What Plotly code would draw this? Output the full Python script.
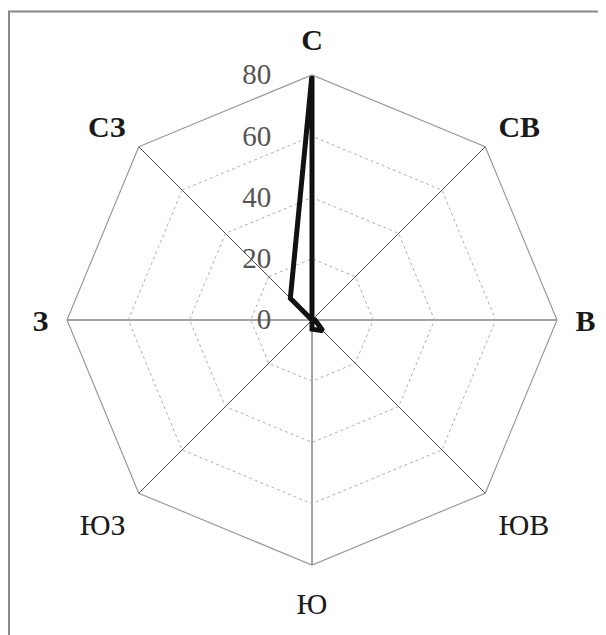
import plotly.graph_objects as go

directions = ["С", "СВ", "В", "ЮВ", "Ю", "ЮЗ", "З", "СЗ"]
values = [80, 0, 1, 5, 3, 0, 0, 10]
bold_labels = ["С", "СВ", "В", "З", "СЗ"]
radial_ticks = [0, 20, 40, 60, 80]

W, H = 606, 635
# page has an 8px body margin, so positions are given relative to the plot div
cx, cy, R = 304, 312, 245

theta = directions + [directions[0]]
r = values + [values[0]]

fig = go.Figure()
fig.add_trace(go.Scatterpolar(
    r=r, theta=theta, mode="lines",
    line=dict(color="#111111", width=5),
    showlegend=False, hoverinfo="skip",
))

ticktext = [f"<b>{d}</b>" if d in bold_labels else d for d in directions]
serif = "Liberation Serif, Times New Roman, serif"

fig.update_layout(
    width=W, height=H,
    margin=dict(l=0, r=0, t=0, b=0),
    paper_bgcolor="white",
    plot_bgcolor="white",
    font=dict(family=serif, color="#222"),
    polar=dict(
        domain=dict(x=[(cx - R) / W, (cx + R) / W],
                    y=[(H - cy - R) / H, (H - cy + R) / H]),
        gridshape="linear",
        bgcolor="white",
        angularaxis=dict(
            direction="clockwise", rotation=90,
            categoryorder="array", categoryarray=directions,
            tickmode="array", tickvals=directions, ticktext=ticktext,
            tickfont=dict(size=30, color="#1a1a1a", family=serif),
            ticks="outside", ticklen=12, tickcolor="rgba(0,0,0,0)",
            showline=True, linecolor="#9a9a9a", linewidth=1.2,
            showgrid=True, gridcolor="#4a4a4a", gridwidth=1,
        ),
        radialaxis=dict(
            range=[0, 80], tickvals=radial_ticks,
            angle=90, side="counterclockwise", tickangle=90,
            showline=False,
            ticks="outside", ticklen=30, tickcolor="rgba(0,0,0,0)",
            tickfont=dict(size=29, color="#555555", family=serif),
            showgrid=True, gridcolor="#b0b0b0", gridwidth=1, griddash="dot",
        ),
    ),
    shapes=[
        dict(type="line", xref="paper", yref="paper",
             x0=1 / W, x1=1 / W, y0=0, y1=(H - 3.5) / H,
             line=dict(color="#888888", width=2)),
        dict(type="line", xref="paper", yref="paper",
             x0=0, x1=1, y0=(H - 3.5) / H, y1=(H - 3.5) / H,
             line=dict(color="#888888", width=2)),
    ],
)

fig.write_html("out.html")
